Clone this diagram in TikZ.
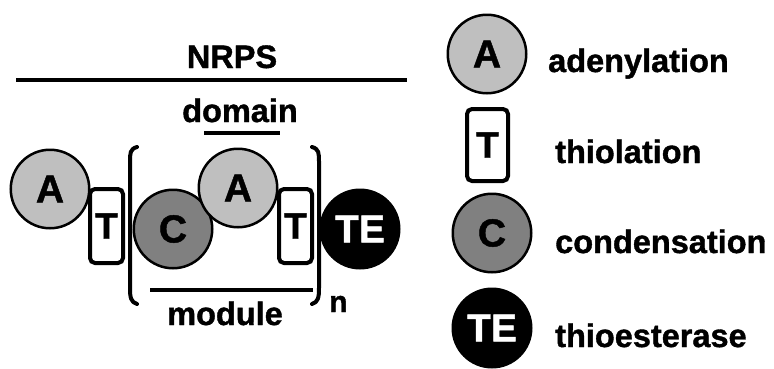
\documentclass[tikz,border=0pt]{standalone}
\usepackage{fontspec}
\setmainfont{Liberation Sans}[BoldFeatures={FakeBold=1.2}]
\begin{document}
\begin{tikzpicture}[x=1pt,y=-1pt,
  lbl/.style={font=\bfseries\fontsize{32.5}{39}\selectfont, inner sep=0pt, anchor=base west},
  ttl/.style={font=\bfseries\fontsize{32.5}{39}\selectfont, inner sep=0pt, anchor=base},
  dom/.style={circle, draw=black, line width=2.5pt, minimum size=78.5pt, inner sep=0pt,
              font=\bfseries\fontsize{39}{44}\selectfont},
  adom/.style={dom, fill=black!25},
  cdom/.style={dom, fill=black!50},
  tedom/.style={dom, fill=black, text=white},
  tdom/.style={rectangle, draw=black, fill=white, line width=4pt, rounded corners=5pt,
               minimum width=33pt, minimum height=74pt, inner sep=0pt,
               font=\bfseries\fontsize{37}{42}\selectfont},
  bar/.style={line width=4pt},
  brk/.style={line width=4pt, line cap=round},
]
\useasboundingbox (0,0) rectangle (774,368);
\fill[white] (0,0) rectangle (774,368);

% title
\node[ttl] (nrps) at (232,68) {NRPS};
\draw[bar] (16,80) -- (407,80);
\node[ttl] (domain) at (240,122) {domain};
\draw[line width=3.5pt] (204,133) -- (280,133);

% domains
\node[adom] (a1) at (50,189) {A};
\node[cdom] (c1) at (173,229) {C};
\node[adom] (a2) at (238,188) {A};
\node[tdom] (t1) at (106.5,226) {T};
\node[tdom] (t2) at (295.5,226) {T};

% brackets
\draw[brk] (137,147) .. controls (130,149) and (130,153) .. (130,162) -- (130,288) .. controls (130,298) and (131,302) .. (137,304);
\draw[brk] (312,147) .. controls (319,149) and (319,153) .. (319,162) -- (319,288) .. controls (319,298) and (318,302) .. (312,304);

\node[tedom] (te1) at (360,229) {TE};

\draw[bar] (150,290) -- (313,290);
\node[ttl] (module) at (225,325) {module};
\node[lbl, font=\bfseries\fontsize{30}{36}\selectfont] (n) at (329,312) {n};

% legend
\node[adom] (la) at (487,54) {A};
\node[lbl] (lat) at (548,72) {adenylation};
\node[tdom, minimum width=41pt, minimum height=72pt] (lt) at (487.5,145) {T};
\node[lbl] (ltt) at (555,163) {thiolation};
\node[cdom] (lc) at (492,233) {C};
\node[lbl] (lct) at (555,253) {condensation};
\node[tedom] (lte) at (492,328) {TE};
\node[lbl] (ltet) at (555,347) {thioesterase};
\end{tikzpicture}
\end{document}
